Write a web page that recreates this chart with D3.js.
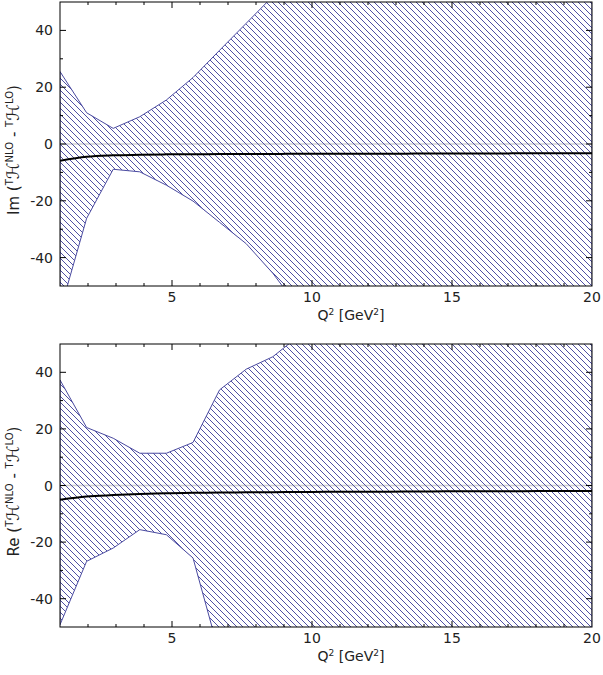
<!DOCTYPE html>
<html><head><meta charset="utf-8">
<script src="https://cdn.jsdelivr.net/npm/d3@7"></script>
<style>body{margin:0;background:#fff}svg{display:block}text{font-family:"DejaVu Sans",sans-serif}</style>
</head><body>
<svg id="c" width="603" height="675"></svg>
<script>
// Q^2 grid
const q2 = [1,1.95,2.9,3.85,4.8,5.75,6.7,7.65,8.6,9.55,10.5,11.45,12.4,13.35,14.3,15.25,16.2,17.15,18.1,19.05,20];
// Im panel
const imUpper = [25.5,11,5.5,9.6,15.5,23.4,33,42.5,52,61,70,79,88,97,105,113,121,129,137,145,153];
const imLower = [-59,-26.2,-8.9,-9.8,-14.5,-20.1,-27.6,-35.1,-45.5,-58,-70,-82,-94,-106,-118,-130,-142,-154,-166,-178,-190];
const imCentral = [-5.9,-4.5,-4.0,-3.8,-3.65,-3.6,-3.55,-3.5,-3.5,-3.45,-3.45,-3.4,-3.4,-3.4,-3.35,-3.35,-3.35,-3.3,-3.3,-3.3,-3.3];
// Re panel
const reUpper = [37.3,20.5,16.7,11.4,11.4,15.2,33.8,41.1,45.5,53,60,67,74,81,88,95,102,109,116,123,130];
const reLower = [-49.2,-26.8,-22.1,-15.6,-17.4,-25.6,-59.7,-75,-90,-105,-120,-135,-150,-165,-180,-195,-210,-225,-240,-255,-270];
const reCentral = [-5.0,-3.9,-3.4,-3.0,-2.7,-2.6,-2.5,-2.4,-2.35,-2.3,-2.25,-2.2,-2.2,-2.15,-2.1,-2.05,-2.0,-2.0,-1.95,-1.9,-1.9];
const xMajor = [5,10,15,20];
const yMajor = [-40,-20,0,20,40];
const xLabel = "Q";
const panels = [
  {name:"Im", upper:imUpper, lower:imLower, central:imCentral, top:2, bottom:286},
  {name:"Re", upper:reUpper, lower:reLower, central:reCentral, top:344, bottom:627}
];

const svg = d3.select("#c");
const left = 60, right = 592;
const x = d3.scaleLinear().domain([1,20]).range([left,right]);
const defs = svg.append("defs");
const pat = defs.append("pattern").attr("id","hatch").attr("patternUnits","userSpaceOnUse")
  .attr("width",6).attr("height",6);
pat.append("path").attr("d","M-1,-1 L7,7 M-1,5 L1,7 M5,-1 L7,1")
  .attr("stroke","#5050a4").attr("stroke-width",1);

panels.forEach((p,i)=>{
  const y = d3.scaleLinear().domain([-50,50]).range([p.bottom,p.top]);
  const g = svg.append("g");
  defs.append("clipPath").attr("id","clip"+i).append("rect")
    .attr("x",left).attr("y",p.top).attr("width",right-left).attr("height",p.bottom-p.top);
  const plot = g.append("g").attr("clip-path",`url(#clip${i})`);
  // zero line
  plot.append("line").attr("x1",left).attr("x2",right).attr("y1",y(0)).attr("y2",y(0))
    .attr("stroke","#d0d0d0").attr("stroke-width",1.5);
  const pts = q2.map((q,k)=>({q,u:p.upper[k],l:p.lower[k],c:p.central[k]}));
  const area = d3.area().x(d=>x(d.q)).y0(d=>y(d.l)).y1(d=>y(d.u));
  plot.append("path").datum(pts).attr("d",area).attr("fill","url(#hatch)")
    .attr("stroke","#4a4aa0").attr("stroke-width",1);
  plot.append("path").datum(pts).attr("d",d3.line().x(d=>x(d.q)).y(d=>y(d.c)).curve(d3.curveMonotoneX))
    .attr("fill","none").attr("stroke","#000").attr("stroke-width",2);

  // frame ticks
  const tg = g.append("g").attr("stroke","#000").attr("stroke-width",1);
  d3.range(2,20).forEach(v=>{
    const L = xMajor.includes(v)?6:3;
    tg.append("line").attr("x1",x(v)).attr("x2",x(v)).attr("y1",p.bottom).attr("y2",p.bottom-L);
    tg.append("line").attr("x1",x(v)).attr("x2",x(v)).attr("y1",p.top).attr("y2",p.top+L);
  });
  d3.range(-40,50,10).forEach(v=>{
    const L = yMajor.includes(v)?6:3;
    tg.append("line").attr("x1",left).attr("x2",left+L).attr("y1",y(v)).attr("y2",y(v));
    tg.append("line").attr("x1",right).attr("x2",right-L).attr("y1",y(v)).attr("y2",y(v));
  });
  g.append("rect").attr("x",left).attr("y",p.top).attr("width",right-left).attr("height",p.bottom-p.top)
    .attr("fill","none").attr("stroke","#000").attr("stroke-width",1);

  // tick labels
  xMajor.forEach(v=>{
    g.append("text").attr("x",x(v)).attr("y",p.bottom+16).attr("text-anchor","middle")
      .attr("font-size",14).attr("fill","#222").text(v);
  });
  yMajor.forEach(v=>{
    g.append("text").attr("x",left-7).attr("y",y(v)+5).attr("text-anchor","end")
      .attr("font-size",14).attr("fill","#222").text(v);
  });
  // x label
  const xl = g.append("text").attr("x",351).attr("y",p.bottom+34).attr("text-anchor","middle")
    .attr("font-size",14).attr("fill","#222");
  xl.append("tspan").text(xLabel);
  xl.append("tspan").attr("font-size",9).attr("dy",-5).text("2");
  xl.append("tspan").attr("dy",5).text(" [GeV");
  xl.append("tspan").attr("font-size",9).attr("dy",-5).text("2");
  xl.append("tspan").attr("dy",5).text("]");
  // y label
  const yl = g.append("text").attr("transform",`translate(19,${(p.top+p.bottom)/2+6}) rotate(-90)`)
    .attr("text-anchor","middle").attr("font-size",15).attr("fill","#222");
  yl.append("tspan").text(p.name+" (");
  yl.append("tspan").attr("font-size",10).attr("dy",-6).text("T");
  yl.append("tspan").attr("dy",6).attr("font-size",17).text("ℋ");
  yl.append("tspan").attr("font-size",10).attr("dy",-6).text("NLO");
  yl.append("tspan").attr("dy",6).text(" - ");
  yl.append("tspan").attr("font-size",10).attr("dy",-6).text("T");
  yl.append("tspan").attr("dy",6).attr("font-size",17).text("ℋ");
  yl.append("tspan").attr("font-size",10).attr("dy",-6).text("LO");
  yl.append("tspan").attr("dy",6).text(")");
});
</script>
</body></html>
